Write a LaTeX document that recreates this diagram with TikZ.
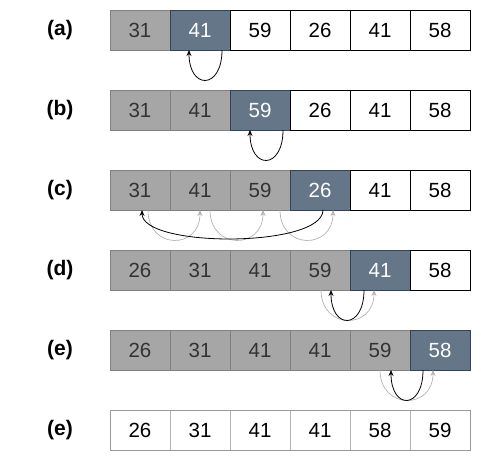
\documentclass[tikz,border=0pt]{standalone}
\usepackage{fontspec}
\setmainfont{Liberation Sans}
\usetikzlibrary{arrows.meta}
\definecolor{sortfill}{HTML}{A6A6A6}
\definecolor{sortline}{HTML}{808080}
\definecolor{keyfill}{HTML}{647687}
\definecolor{keyline}{HTML}{314354}
\definecolor{shiftgray}{HTML}{B3B3B3}

\begin{document}
\begin{tikzpicture}[x=1pt, y=-1pt,
  cell/.style={rectangle, draw, line width=0.8pt, minimum width=60pt, minimum height=40pt,
    inner sep=0pt, outer sep=0pt, font=\fontsize{20.5}{24}\selectfont},
  sortedcell/.style={fill=sortfill, draw=sortline, text=black!80},
  keycell/.style={fill=keyfill, draw=keyline, text=white},
  opencell/.style={fill=white, draw=black, text=black},
  endcell/.style={fill=white, draw=black!30, text=black},
  lbl/.style={font=\fontsize{21}{25}\selectfont\bfseries},
  back/.style={-{Stealth[length=6pt, width=5pt]}, line width=0.8pt, black},
  moved/.style={-{Stealth[length=6pt, width=5pt]}, line width=0.7pt, shiftgray}]
\useasboundingbox (0,0) rectangle (481,462);

% rows of the array
\node[lbl] (la) at (60,30) {(a)};
\foreach \v/\s [count=\i] in {31/sortedcell,41/keycell,59/opencell,26/opencell,41/opencell,58/opencell}
  \node[cell,\s] (a\i) at (80+60*\i,30) {\v};
\node[lbl] (lb) at (60,110) {(b)};
\foreach \v/\s [count=\i] in {31/sortedcell,41/sortedcell,59/keycell,26/opencell,41/opencell,58/opencell}
  \node[cell,\s] (b\i) at (80+60*\i,110) {\v};
\node[lbl] (lc) at (60,190) {(c)};
\foreach \v/\s [count=\i] in {31/sortedcell,41/sortedcell,59/sortedcell,26/keycell,41/opencell,58/opencell}
  \node[cell,\s] (c\i) at (80+60*\i,190) {\v};
\node[lbl] (ld) at (60,270) {(d)};
\foreach \v/\s [count=\i] in {26/sortedcell,31/sortedcell,41/sortedcell,59/sortedcell,41/keycell,58/opencell}
  \node[cell,\s] (d\i) at (80+60*\i,270) {\v};
\node[lbl] (le) at (60,350) {(e)};
\foreach \v/\s [count=\i] in {26/sortedcell,31/sortedcell,41/sortedcell,41/sortedcell,59/sortedcell,58/keycell}
  \node[cell,\s] (e\i) at (80+60*\i,350) {\v};
\node[lbl] (lf) at (60,430) {(e)};
\foreach \v [count=\i] in {26,31,41,41,58,59}
  \node[cell,endcell] (f\i) at (80+60*\i,430) {\v};
\draw[black!40, line width=0.8pt] (f1.north west) rectangle (f6.south east);

% moves of the key
\draw[back] ([xshift=22]a2.south) .. controls +(0,40) and +(0,40) .. ([xshift=-11]a2.south);
\draw[back] ([xshift=23]b3.south) .. controls +(0,40) and +(0,40) .. ([xshift=-10]b3.south);

\draw[moved] ([xshift=8]c1.south) .. controls +(0,40) and +(0,40) .. (c2.south);
\draw[moved] ([xshift=10]c2.south) .. controls +(0,40) and +(0,40) .. ([xshift=3]c3.south);
\draw[moved] ([xshift=20]c3.south) .. controls +(0,40) and +(0,40) .. ([xshift=13]c4.south);
\draw[back] ([xshift=3]c4.south) .. controls +(0,38) and +(0,38) .. ([xshift=2]c1.south);

\draw[moved] ([xshift=1]d4.south) .. controls +(0,40) and +(0,40) .. ([xshift=-6]d5.south);
\draw[back] ([xshift=-16]d5.south) .. controls +(0,40) and +(0,40) .. ([xshift=11]d4.south);

\draw[moved] (e5.south) .. controls +(0,40) and +(0,40) .. ([xshift=-7]e6.south);
\draw[back] ([xshift=-17]e6.south) .. controls +(0,40) and +(0,40) .. ([xshift=11]e5.south);
\end{tikzpicture}
\end{document}
